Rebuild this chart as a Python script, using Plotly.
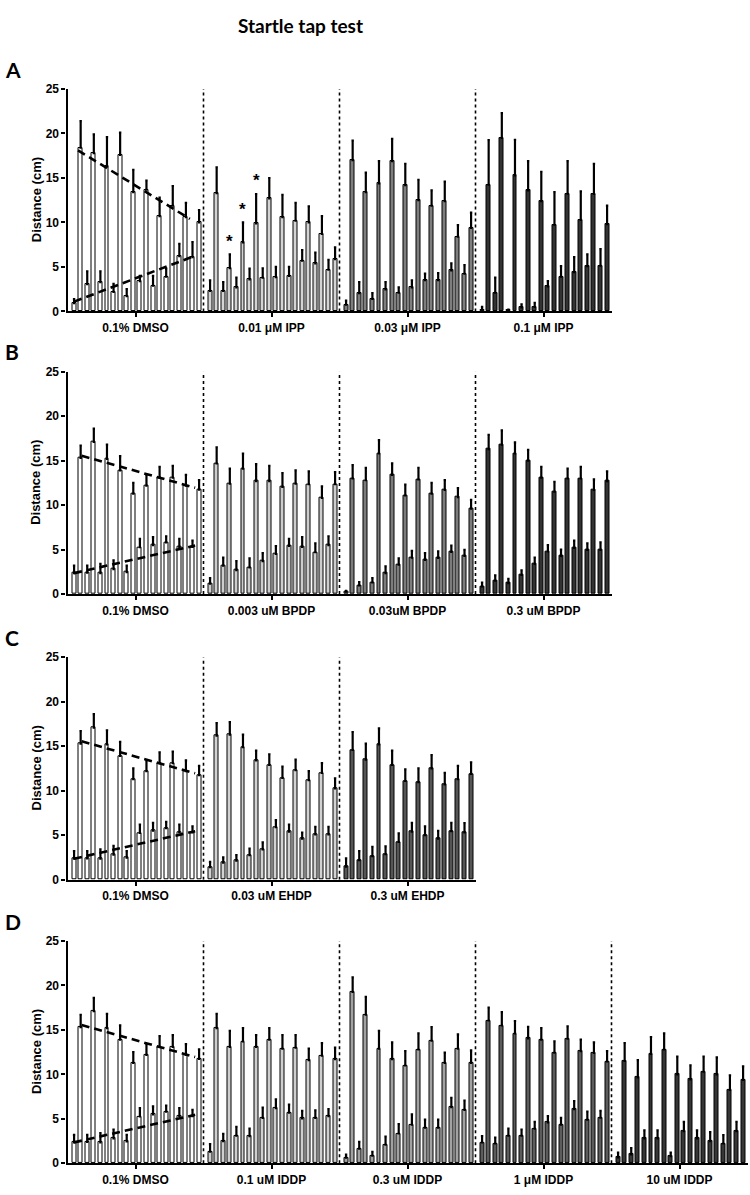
import plotly.graph_objects as go

# ---------------- data (mean distance, SEM) ----------------
# Panel A
dmsoA_mean = [0.93, 18.4, 3.06, 17.8, 3.3, 16.3, 2.2, 17.6, 1.7, 13.4, 3.4, 13.7, 2.9, 10.7, 3.9, 11.9, 6.2, 10.6, 6.1, 10.0]
dmsoA_sem = [0.45, 3.0, 1.45, 2.1, 1.2, 3.3, 0.9, 2.5, 0.8, 2.5, 0.6, 1.0, 1.1, 2.1, 0.9, 2.2, 1.4, 1.6, 1.7, 1.4]
ipp001_mean = [2.3, 13.3, 2.3, 4.85, 2.7, 7.76, 3.6, 9.9, 3.8, 12.7, 3.84, 10.6, 4.0, 10.2, 5.7, 10.0, 5.4, 8.7, 4.7, 5.86]
ipp001_sem = [1.2, 2.9, 1.0, 1.55, 1.1, 2.24, 1.2, 3.3, 1.05, 2.3, 1.16, 2.5, 1.0, 2.0, 1.2, 1.8, 1.2, 2.0, 1.1, 1.34]
ipp003_mean = [0.75, 17.0, 2.05, 13.4, 1.4, 14.4, 2.46, 16.9, 2.1, 14.2, 2.7, 12.5, 3.5, 11.9, 3.5, 12.4, 4.6, 8.4, 4.25, 9.4]
ipp003_sem = [0.45, 2.2, 1.25, 2.2, 0.65, 2.5, 0.84, 2.5, 0.6, 2.4, 0.8, 2.3, 0.75, 1.7, 0.8, 2.2, 0.8, 1.3, 0.95, 1.7]
ipp01_mean = [0.2, 14.25, 2.1, 19.5, 0.1, 15.3, 0.45, 13.6, 0.5, 12.4, 2.8, 9.74, 3.9, 13.25, 4.4, 10.3, 5.1, 13.2, 5.15, 9.8]
ipp01_sem = [0.3, 5.0, 1.7, 2.8, 0.1, 4.0, 0.35, 3.3, 0.47, 3.3, 0.6, 3.66, 1.2, 3.65, 1.7, 3.2, 1.3, 3.4, 1.85, 2.1]
star_idx = [3, 5, 7]          # bars of 0.01 uM IPP marked with *

# Control (0.1% DMSO) for panels B, C, D
dmso_mean = [2.35, 15.3, 2.4, 17.1, 2.35, 15.2, 2.8, 13.9, 2.46, 11.3, 5.26, 12.2, 5.5, 13.1, 5.8, 13.1, 5.3, 12.2, 5.3, 11.75]
dmso_sem = [0.85, 1.4, 0.8, 1.5, 1.05, 1.6, 1.0, 1.6, 0.74, 1.2, 0.94, 1.2, 0.9, 1.2, 0.7, 1.3, 0.9, 1.2, 0.7, 1.05]

# Panel B
bpdp0003_mean = [1.16, 14.7, 3.2, 12.4, 2.7, 14.1, 3.0, 12.7, 3.7, 12.7, 4.5, 12.05, 5.4, 12.4, 5.3, 12.35, 4.7, 10.8, 5.5, 12.35]
bpdp0003_sem = [0.64, 1.8, 0.9, 1.7, 1.0, 1.7, 1.0, 1.9, 0.9, 1.7, 0.9, 1.55, 0.8, 1.5, 1.1, 1.45, 1.0, 1.3, 1.0, 1.35]
bpdp003_mean = [0.26, 13.0, 0.97, 12.8, 1.3, 15.8, 2.35, 13.4, 3.3, 11.1, 4.1, 12.9, 3.84, 11.3, 4.07, 11.7, 4.74, 10.9, 4.3, 9.6]
bpdp003_sem = [0.1, 1.5, 0.38, 1.4, 0.5, 1.5, 0.75, 1.3, 0.7, 1.2, 0.75, 1.3, 0.76, 1.2, 0.73, 1.1, 0.71, 1.0, 0.66, 1.0]
bpdp03_mean = [0.86, 16.3, 1.5, 16.8, 1.23, 15.8, 2.16, 15.0, 3.4, 13.1, 4.8, 11.5, 4.3, 13.0, 5.2, 13.0, 4.96, 11.7, 4.96, 12.7]
bpdp03_sem = [0.44, 1.6, 0.6, 1.6, 0.47, 1.25, 0.49, 1.2, 0.7, 1.2, 0.7, 1.1, 0.7, 1.1, 0.8, 1.3, 0.74, 1.2, 0.84, 1.1]

# Panel C
ehdp003_mean = [1.4, 16.2, 1.9, 16.3, 2.15, 14.9, 2.75, 13.4, 3.4, 12.9, 5.9, 11.45, 5.4, 12.3, 4.6, 11.2, 5.1, 12.0, 5.1, 10.26]
ehdp003_sem = [0.6, 1.4, 0.6, 1.4, 0.6, 1.4, 0.75, 1.1, 0.8, 1.2, 0.8, 1.25, 0.8, 1.2, 0.7, 1.0, 0.85, 1.1, 0.85, 1.14]
ehdp03_mean = [1.45, 14.6, 2.2, 13.5, 2.64, 15.2, 2.86, 12.9, 4.24, 11.1, 5.4, 10.97, 5.0, 12.5, 4.6, 10.7, 5.46, 11.3, 5.3, 11.9]
ehdp03_sem = [0.95, 2.0, 1.0, 1.8, 1.06, 1.8, 0.89, 1.6, 0.96, 1.3, 1.0, 1.53, 1.0, 1.5, 0.9, 1.3, 0.94, 1.5, 1.06, 1.3]

# Panel D
iddp01_mean = [1.3, 15.2, 2.5, 13.1, 3.1, 13.7, 3.05, 13.1, 5.1, 13.9, 6.2, 12.9, 5.7, 13.0, 5.05, 11.6, 5.1, 12.1, 5.3, 11.7]
iddp01_sem = [0.85, 1.6, 0.8, 1.8, 1.0, 1.5, 0.85, 1.3, 1.15, 1.3, 1.0, 1.5, 0.9, 1.4, 0.85, 1.3, 0.85, 1.4, 0.8, 1.3]
iddp03_mean = [0.63, 19.26, 1.64, 16.7, 0.86, 12.9, 2.1, 11.7, 3.35, 11.0, 4.35, 12.8, 4.0, 13.8, 4.0, 11.3, 6.3, 12.9, 6.0, 11.3]
iddp03_sem = [0.34, 1.64, 0.76, 2.0, 0.44, 2.0, 0.9, 1.9, 1.05, 1.6, 1.15, 1.8, 0.9, 1.5, 0.9, 1.15, 1.06, 1.6, 1.06, 1.4]
iddp1_mean = [2.34, 16.06, 2.23, 15.5, 3.12, 14.6, 3.12, 14.05, 3.9, 13.9, 4.6, 12.45, 4.35, 14.0, 6.1, 12.6, 4.9, 12.4, 5.13, 11.45]
iddp1_sem = [0.71, 1.44, 0.67, 1.5, 0.78, 1.4, 0.68, 1.3, 0.75, 1.3, 0.7, 1.25, 0.75, 1.4, 0.9, 1.3, 0.9, 1.2, 0.77, 1.15]
iddp10_mean = [0.67, 11.5, 1.0, 9.67, 2.8, 12.3, 2.8, 12.8, 0.8, 10.0, 3.6, 9.44, 2.8, 10.3, 2.5, 10.0, 2.23, 8.25, 3.6, 9.37]
iddp10_sem = [0.53, 2.0, 0.7, 1.93, 0.9, 1.9, 0.9, 1.8, 0.4, 2.0, 1.05, 1.56, 0.9, 1.7, 1.0, 1.9, 0.93, 1.65, 1.05, 1.53]

# Dashed trend lines of the control group: [start bar index, end bar index], [start, end] values
trendA_hi_x, trendA_hi_y = [0.6, 17.6], [18.1, 10.4]
trendA_lo_x, trendA_lo_y = [0.0, 18.2], [1.1, 6.2]
trend_hi_x, trend_hi_y = [1.15, 18.4], [15.55, 11.95]
trend_lo_x, trend_lo_y = [0.0, 18.4], [2.35, 5.45]

yticks = [0, 5, 10, 15, 20, 25]

# ---------------- layout helpers ----------------
W, H = 750, 1195
G = 20.67          # group width in bar units
X0 = 67.5          # left edge of the axes (px)
GPX = 136.0        # group width in px

panels = [
    dict(letter="A", top=83, bottom=308,
         groups=[("0.1% DMSO", dmsoA_mean, dmsoA_sem, "#ffffff"),
                 ("0.01 μM IPP", ipp001_mean, ipp001_sem, "#d4d4d4"),
                 ("0.03 μM IPP", ipp003_mean, ipp003_sem, "#7e7e7e"),
                 ("0.1 μM IPP", ipp01_mean, ipp01_sem, "#333333")],
         trend=[(trendA_hi_x, trendA_hi_y), (trendA_lo_x, trendA_lo_y)]),
    dict(letter="B", top=369, bottom=594,
         groups=[("0.1% DMSO", dmso_mean, dmso_sem, "#ffffff"),
                 ("0.003 uM BPDP", bpdp0003_mean, bpdp0003_sem, "#cdcdcd"),
                 ("0.03uM BPDP", bpdp003_mean, bpdp003_sem, "#7c7c7c"),
                 ("0.3 uM BPDP", bpdp03_mean, bpdp03_sem, "#333333")],
         trend=[(trend_hi_x, trend_hi_y), (trend_lo_x, trend_lo_y)]),
    dict(letter="C", top=658, bottom=883,
         groups=[("0.1% DMSO", dmso_mean, dmso_sem, "#ffffff"),
                 ("0.03 uM EHDP", ehdp003_mean, ehdp003_sem, "#d2d2d2"),
                 ("0.3 uM EHDP", ehdp03_mean, ehdp03_sem, "#555555")],
         trend=[(trend_hi_x, trend_hi_y), (trend_lo_x, trend_lo_y)]),
    dict(letter="D", top=945, bottom=1170,
         groups=[("0.1% DMSO", dmso_mean, dmso_sem, "#ffffff"),
                 ("0.1 uM IDDP", iddp01_mean, iddp01_sem, "#cfcfcf"),
                 ("0.3 uM IDDP", iddp03_mean, iddp03_sem, "#a2a2a2"),
                 ("1 μM IDDP", iddp1_mean, iddp1_sem, "#5c5c5c"),
                 ("10 uM IDDP", iddp10_mean, iddp10_sem, "#363636")],
         trend=[(trend_hi_x, trend_hi_y), (trend_lo_x, trend_lo_y)]),
]

def bar_x(g, i):
    return g * G + 1.0 + i

AX_FONT = "Liberation Sans"
fig = go.Figure()
shapes = []
annotations = []

for p_i, p in enumerate(panels):
    k = "" if p_i == 0 else str(p_i + 1)
    xref, yref = "x" + k, "y" + k
    n = len(p["groups"])
    for g, (label, mean, sem, color) in enumerate(p["groups"]):
        fig.add_trace(go.Bar(
            x=[bar_x(g, i) for i in range(len(mean))], y=mean,
            width=0.6, xaxis=xref, yaxis=yref, showlegend=False,
            marker=dict(color=color, line=dict(color="black", width=1)),
            error_y=dict(type="data", symmetric=False, array=sem,
                         arrayminus=[0] * len(sem), color="black",
                         thickness=2.2, width=1.2),
        ))
    for tx, ty in p["trend"]:
        fig.add_trace(go.Scatter(
            x=[bar_x(0, v) for v in tx], y=ty, mode="lines",
            xaxis=xref, yaxis=yref, showlegend=False,
            line=dict(color="black", width=2.6, dash="8px,5px"),
        ))
    for g in range(1, n):
        shapes.append(dict(type="line", xref=xref, yref=yref,
                           x0=g * G, x1=g * G, y0=0, y1=25,
                           line=dict(color="black", width=1.6, dash="dot")))
    # axes
    x1 = min(X0 + n * GPX, W - 0.5)
    layout_x = dict(domain=[X0 / W, x1 / W], range=[0, n * G], anchor=yref,
                    showgrid=False, zeroline=False, showline=True,
                    linecolor="black", linewidth=2.2,
                    tickmode="array",
                    tickvals=[(g + 0.5) * G for g in range(n)],
                    ticktext=["<b>" + gr[0] + "</b>" for gr in p["groups"]],
                    ticks="outside", ticklen=4, tickwidth=2, tickcolor="black",
                    tickfont=dict(family=AX_FONT, size=12, color="black"))
    layout_y = dict(domain=[1 - p["bottom"] / H, 1 - p["top"] / H], range=[0, 25],
                    anchor=xref, showgrid=False, zeroline=False, showline=True,
                    linecolor="black", linewidth=2.2,
                    tickmode="array", tickvals=yticks,
                    ticktext=["<b>%d</b>" % v for v in yticks],
                    ticks="outside", ticklen=4, tickwidth=2, tickcolor="black",
                    tickfont=dict(family=AX_FONT, size=12, color="black"))
    fig.layout["xaxis" + k] = layout_x
    fig.layout["yaxis" + k] = layout_y
    mid = (p["top"] + p["bottom"]) / 2
    annotations.append(dict(text="<b>Distance (cm)</b>", xref="paper", yref="paper",
                            x=36 / W, y=1 - mid / H, textangle=-90, showarrow=False,
                            xanchor="center", yanchor="middle",
                            font=dict(family=AX_FONT, size=13, color="black")))
    annotations.append(dict(text="<b>" + p["letter"] + "</b>", xref="paper", yref="paper",
                            x=3 / W, y=1 - (p["top"] - 20) / H, showarrow=False,
                            xanchor="left", yanchor="middle",
                            font=dict(family="Lato", size=21, color="black")))

# significance stars (panel A, 0.01 uM IPP group)
for i in star_idx:
    annotations.append(dict(text="<b>*</b>", xref="x", yref="y",
                            x=bar_x(1, i), y=ipp001_mean[i] + ipp001_sem[i] + 0.2,
                            showarrow=False, xanchor="center", yanchor="bottom",
                            font=dict(family=AX_FONT, size=17, color="black")))

annotations.append(dict(text="<b>Startle tap test</b>", xref="paper", yref="paper",
                        x=300 / W, y=1 - 19 / H, showarrow=False,
                        xanchor="center", yanchor="middle",
                        font=dict(family="Lato", size=19, color="black")))

fig.update_layout(width=W, height=H, margin=dict(l=0, r=0, t=0, b=0),
                  paper_bgcolor="white", plot_bgcolor="white",
                  bargap=0, shapes=shapes, annotations=annotations)

fig.write_html("out.html", config={"displayModeBar": False},
               post_script="document.body.style.margin='0';document.body.style.overflow='hidden';")
